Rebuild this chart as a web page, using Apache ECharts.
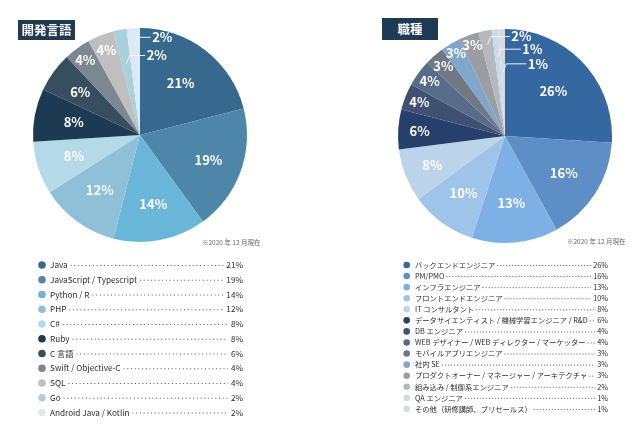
<!DOCTYPE html>
<html>
<head>
<meta charset="utf-8">
<script src="https://cdn.jsdelivr.net/npm/echarts@6/dist/echarts.min.js"></script>
<style>
  html, body { margin: 0; padding: 0; background: #fff; }
  #main { width: 644px; height: 436px; }
</style>
</head>
<body>
<div id="main"></div>
<script>
// 開発言語
const langNames = ['Java', 'JavaScript / Typescript', 'Python / R', 'PHP', 'C#', 'Ruby', 'C 言語', 'Swift / Objective-C', 'SQL', 'Go', 'Android Java / Kotlin'];
const langValues = [21, 19, 14, 12, 8, 8, 6, 4, 4, 2, 2];
const langColors = ['#36698d', '#4e86a9', '#69b6d9', '#8ec1d8', '#b4d9e7', '#1d3a53', '#374e5e', '#7b8891', '#bfbfbf', '#a9d1db', '#dcebf2'];

// 職種
const jobNames = ['バックエンドエンジニア', 'PM/PMO', 'インフラエンジニア', 'フロントエンドエンジニア', 'IT コンサルタント', 'データサイエンティスト / 機械学習エンジニア / R&D', 'DB エンジニア', 'WEB デザイナー / WEB ディレクター / マーケッター', 'モバイルアプリエンジニア', '社内 SE', 'プロダクトオーナー / マネージャー / アーキテクチャ', '組み込み / 制御系エンジニア', 'QA エンジニア', 'その他（研修講師、プリセールス）'];
const jobValues = [26, 16, 13, 10, 8, 6, 4, 4, 3, 3, 3, 2, 1, 1];
const jobColors = ['#3567a0', '#5d8ec6', '#7db1e6', '#9ec4ea', '#bcd4ea', '#263f6b', '#3f5070', '#576b8b', '#6f7884', '#80a6ca', '#9a9ea3', '#b5b9be', '#c6dce9', '#d9dcdf'];

const note = '※2020 年 12 月現在';
const FONT = "'Noto Sans CJK JP', 'Noto Sans', sans-serif";

// label distance from the centre (fraction of radius), and callouts for thin slices
const langLabelR = [0.62, 0.68, 0.66, 0.64, 0.65, 0.63, 0.69, 0.87, 0.85, 0, 0];
const langCallouts = { 9: { r: 0.68, len: 15.5 }, 10: { r: 0.84, len: 13 } };
const jobLabelR = [0.62, 0.65, 0.63, 0.66, 0.73, 0.80, 0.86, 0.87, 0.87, 0.90, 0.90, 0, 0, 0];
const jobCallouts = { 11: { r: 0.87, len: 19 }, 12: { r: 0.74, len: 20 }, 13: { r: 0.60, len: 20 } };

const R = 107;
const left = { cx: 140, cy: 135 };
const right = { cx: 505, cy: 136 };

// mid angle of slice i (clockwise from 12 o'clock)
function midDir(values, i) {
  const total = values.reduce((a, b) => a + b, 0);
  let before = 0;
  for (let k = 0; k < i; k++) before += values[k];
  const ang = (before + values[i] / 2) / total * Math.PI * 2;
  return [Math.sin(ang), -Math.cos(ang)];
}

function calloutPts(values, pos, i, c) {
  const d = midDir(values, i);
  const x0 = pos.cx + d[0] * R * c.r, y0 = pos.cy + d[1] * R * c.r;
  const x1 = x0 + 3.3, y1 = y0 - 8;
  return [[x0, y0], [x1, y1], [x1 + c.len, y1]];
}

function makeLayout(values, pos, labelR, callouts) {
  return function (params) {
    const i = params.dataIndex;
    if (callouts[i]) {
      const p = calloutPts(values, pos, i, callouts[i]);
      return { x: p[2][0] + 1.5, y: p[2][1], align: 'left', verticalAlign: 'middle' };
    }
    const d = midDir(values, i);
    return { x: pos.cx + d[0] * R * labelR[i], y: pos.cy + d[1] * R * labelR[i], align: 'center', verticalAlign: 'middle' };
  };
}

function pieSeries(pos, names, values, colors, labelR, callouts) {
  return {
    type: 'pie',
    center: [pos.cx, pos.cy],
    radius: R,
    startAngle: 90,
    clockwise: true,
    avoidLabelOverlap: false,
    silent: true,
    label: {
      show: true,
      position: 'inside',
      formatter: '{c}%',
      color: '#fff',
      fontFamily: FONT,
      fontWeight: 'bold',
      fontSize: 13
    },
    labelLine: { show: false },
    labelLayout: makeLayout(values, pos, labelR, callouts),
    data: names.map((n, i) => ({ name: n, value: values[i], itemStyle: { color: colors[i] } }))
  };
}

function calloutLines(values, pos, callouts) {
  return Object.keys(callouts).map(k => ({
    type: 'polyline',
    z: 10,
    shape: { points: calloutPts(values, pos, +k, callouts[k]) },
    style: { stroke: '#eef3f6', lineWidth: 1, fill: null },
    silent: true
  }));
}

// measure text for the dotted leaders
const ctx = document.createElement('canvas').getContext('2d');
function textW(t, font) { ctx.font = font; return ctx.measureText(t).width; }

function legendBlock(names, values, colors, o) {
  const els = [];
  const font = o.fontSize + 'px ' + FONT;
  names.forEach((n, i) => {
    const y = o.y0 + i * o.dy;
    const pct = values[i] + '%';
    const tw = textW(n, font);
    const pw = textW(pct, font);
    els.push({ type: 'circle', shape: { cx: o.dotX, cy: y, r: o.dotR }, style: { fill: colors[i] }, silent: true });
    els.push({ type: 'text', style: { text: n, x: o.textX, y: y, font: font, fill: '#2b2b2b', textAlign: 'left', textVerticalAlign: 'middle', align: 'left', verticalAlign: 'middle' }, silent: true });
    els.push({ type: 'line', shape: { x1: o.textX + tw + o.gap, y1: y + 0.5, x2: o.pctX - pw - o.gap, y2: y + 0.5 }, style: { stroke: '#555', lineWidth: 1, lineDash: [1, o.dash] }, silent: true });
    els.push({ type: 'text', style: { text: pct, x: o.pctX, y: y, font: font, fill: '#2b2b2b', textAlign: 'right', textVerticalAlign: 'middle', align: 'right', verticalAlign: 'middle' }, silent: true });
  });
  return els;
}

function titleBox(x, y, w, h, text) {
  return [
    { type: 'rect', shape: { x: x, y: y, width: w, height: h }, style: { fill: '#1f3a53' }, silent: true },
    { type: 'text', style: { text: text, x: x + w / 2, y: y + h / 2 + 0.5, font: 'bold 12.5px ' + FONT, fill: '#fff', textAlign: 'center', textVerticalAlign: 'middle', align: 'center', verticalAlign: 'middle' }, silent: true }
  ];
}

const graphics = [].concat(
  titleBox(18, 20, 57, 20, '開発言語'),
  titleBox(382, 18, 56, 22, '職種'),
  [
    { type: 'text', style: { text: note, x: 202, y: 243, font: '6.5px ' + FONT, fill: '#666', textAlign: 'left', textVerticalAlign: 'middle', align: 'left', verticalAlign: 'middle' }, silent: true },
    { type: 'text', style: { text: note, x: 567, y: 242, font: '6.5px ' + FONT, fill: '#666', textAlign: 'left', textVerticalAlign: 'middle', align: 'left', verticalAlign: 'middle' }, silent: true }
  ],
  calloutLines(langValues, left, langCallouts),
  calloutLines(jobValues, right, jobCallouts),
  legendBlock(langNames, langValues, langColors, { y0: 265, dy: 14.75, dotX: 42, dotR: 3.8, textX: 50, pctX: 243, fontSize: 8.2, gap: 3, dash: 2.7 }),
  legendBlock(jobNames, jobValues, jobColors, { y0: 265, dy: 11.07, dotX: 406.7, dotR: 3.3, textX: 415, pctX: 608, fontSize: 7.3, gap: 2, dash: 2 })
);

const chart = echarts.init(document.getElementById('main'), null, { renderer: 'canvas' });
chart.setOption({
  animation: false,
  backgroundColor: '#fff',
  series: [
    pieSeries(left, langNames, langValues, langColors, langLabelR, langCallouts),
    pieSeries(right, jobNames, jobValues, jobColors, jobLabelR, jobCallouts)
  ],
  graphic: { elements: graphics }
});
</script>
</body>
</html>
